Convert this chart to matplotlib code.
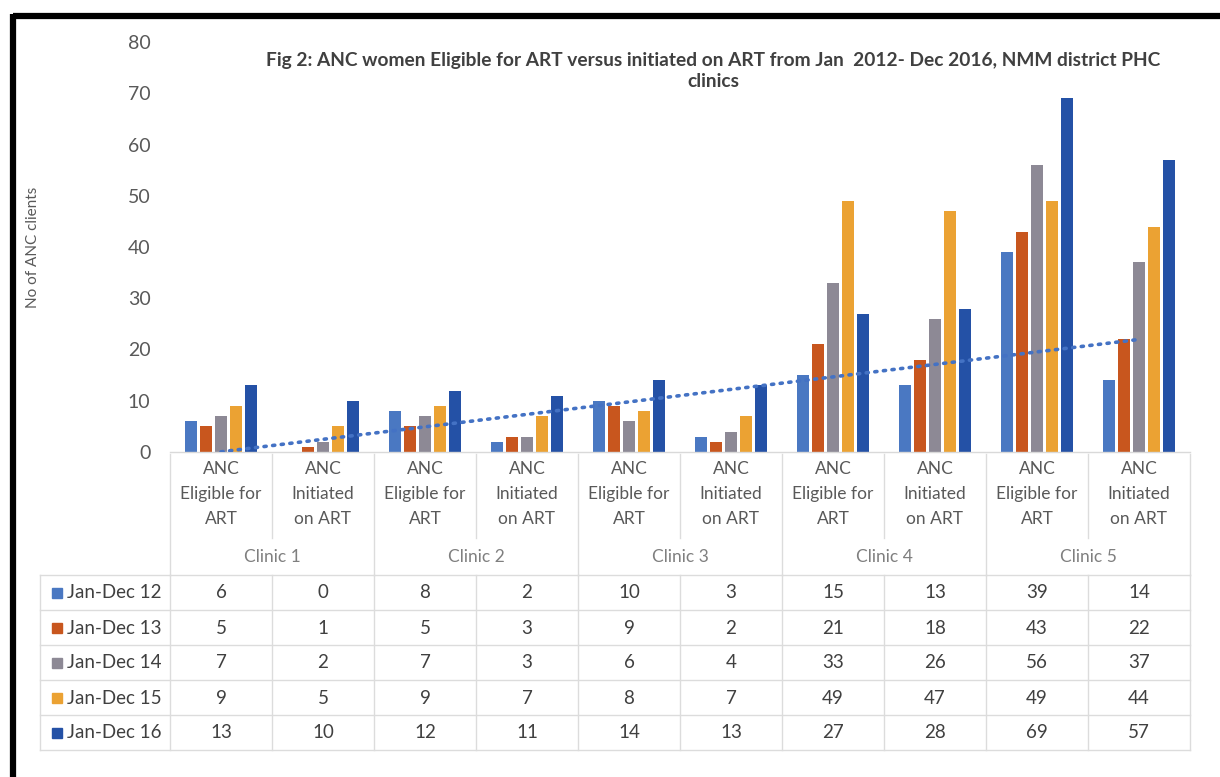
import numpy as np
import matplotlib
matplotlib.use("Agg")
import matplotlib.pyplot as plt
from matplotlib.transforms import blended_transform_factory
from matplotlib.lines import Line2D

# ---------------- data ----------------
clinics = ["Clinic 1", "Clinic 2", "Clinic 3", "Clinic 4", "Clinic 5"]
subcats = ["ANC\nEligible for\nART", "ANC\nInitiated\non ART"]
series_labels = ["Jan-Dec 12", "Jan-Dec 13", "Jan-Dec 14", "Jan-Dec 15", "Jan-Dec 16"]
jan_dec_12 = [6, 0, 8, 2, 10, 3, 15, 13, 39, 14]
jan_dec_13 = [5, 1, 5, 3, 9, 2, 21, 18, 43, 22]
jan_dec_14 = [7, 2, 7, 3, 6, 4, 33, 26, 56, 37]
jan_dec_15 = [9, 5, 9, 7, 8, 7, 49, 47, 49, 44]
jan_dec_16 = [13, 10, 12, 11, 14, 13, 27, 28, 69, 57]
series = [jan_dec_12, jan_dec_13, jan_dec_14, jan_dec_15, jan_dec_16]
colors = ["#4A78C2", "#C8561E", "#8D8995", "#EBA233", "#2451A6"]
yticks = [0, 10, 20, 30, 40, 50, 60, 70, 80]
title = ("Fig 2: ANC women Eligible for ART versus initiated on ART from Jan  2012- Dec 2016, NMM district PHC\n"
         "clinics")
ylabel = "No of ANC clients"

FONT = ["Lato", "DejaVu Sans"]
plt.rcParams["font.family"] = FONT

W, H = 1220, 777
fig = plt.figure(figsize=(W / 100, H / 100), dpi=100)
fig.patch.set_facecolor("white")

ax_l, ax_r, ax_b, ax_t = 170, 1190, 452, 42
ax = fig.add_axes([ax_l / W, 1 - ax_b / H, (ax_r - ax_l) / W, (ax_b - ax_t) / H])

ncat = len(jan_dec_12)
x = np.arange(ncat)
step = 0.146
bw = 0.118
for k, (vals, c) in enumerate(zip(series, colors)):
    ax.bar(x + (k - 2) * step, vals, width=bw, color=c, zorder=2)

# linear trendline of first series
coef = np.polyfit(x, jan_dec_12, 1)
ax.plot(x, np.polyval(coef, x), linestyle=(0, (0.6, 1.8)), color="#4472C4",
        lw=2.6, dash_capstyle="round", zorder=3)

ax.set_xlim(-0.5, ncat - 0.5)
ax.set_ylim(0, 80)
ax.set_yticks(yticks)
ax.set_yticklabels([str(t) for t in yticks], fontsize=14, color="#595959")
ax.tick_params(axis="y", length=0, pad=14)
ax.set_xticks([])
for s in ["top", "right", "left"]:
    ax.spines[s].set_visible(False)
ax.spines["bottom"].set_color("#D9D9D9")
ax.spines["bottom"].set_linewidth(1.0)

fig.text(33 / W, 1 - 247 / H, ylabel, rotation=90, ha="center", va="center",
         fontsize=11, color="#595959")
fig.text(713 / W, 1 - 71 / H, title, ha="center", va="center", fontsize=13.8,
         fontweight="bold", color="#404040", linespacing=1.3)

# ---------------- data table ----------------
tr = blended_transform_factory(ax.transData, fig.transFigure)
def fy(py):
    return 1 - py / H

grid_c = "#DCDCDC"
# header category labels
line_y = [469, 494, 519]
for i in range(ncat):
    lines = subcats[i % 2].split("\n")
    for ln, py in zip(lines, line_y):
        ax.text(i, fy(py), ln, transform=tr, ha="center", va="center",
                fontsize=12.5, color="#595959")
for j, cl in enumerate(clinics):
    ax.text(2 * j + 0.5, fy(557), cl, transform=tr, ha="center", va="center",
            fontsize=12.5, color="#7F7F7F")

# header vertical lines
for b in np.arange(-0.5, ncat + 0.5, 1.0):
    is_clinic = (round(b + 0.5) % 2 == 0)
    ybot = 575 if is_clinic else 538
    ax.add_line(Line2D([b, b], [fy(454), fy(ybot)], transform=tr, color=grid_c,
                       lw=1.0, clip_on=False))

# data rows
row_y = [593, 628, 663, 698, 733]
for r, (lab, vals, c) in enumerate(zip(series_labels, series, colors)):
    py = row_y[r]
    fig.patches.append(plt.Rectangle((52 / W, fy(py + 5)), 10 / W, 10 / H,
                                     transform=fig.transFigure, color=c))
    fig.text(67 / W, fy(py), lab, ha="left", va="center", fontsize=13.5,
             color="#404040")
    for i, v in enumerate(vals):
        ax.text(i, fy(py), str(v), transform=tr, ha="center", va="center",
                fontsize=13.5, color="#404040")

# row lines
for py in [575, 610, 645, 680, 715, 750]:
    fig.lines.append(Line2D([40 / W, ax_r / W], [fy(py), fy(py)],
                            transform=fig.transFigure, color=grid_c, lw=1.0))
for b in np.arange(-0.5, ncat + 0.5, 1.0):
    ax.add_line(Line2D([b, b], [fy(575), fy(750)], transform=tr, color=grid_c,
                       lw=1.0, clip_on=False))
fig.lines.append(Line2D([40 / W, 40 / W], [fy(575), fy(750)],
                        transform=fig.transFigure, color=grid_c, lw=1.0))

# outer black frame (screenshot border)
fig.lines.append(Line2D([13 / W, 1.0], [fy(16), fy(16)], transform=fig.transFigure,
                        color="black", lw=4.5, solid_capstyle="butt"))
fig.lines.append(Line2D([13 / W, 13 / W], [fy(14), 0.0], transform=fig.transFigure,
                        color="black", lw=4.5, solid_capstyle="butt"))

fig.savefig("out.png", dpi=100, facecolor="white")
